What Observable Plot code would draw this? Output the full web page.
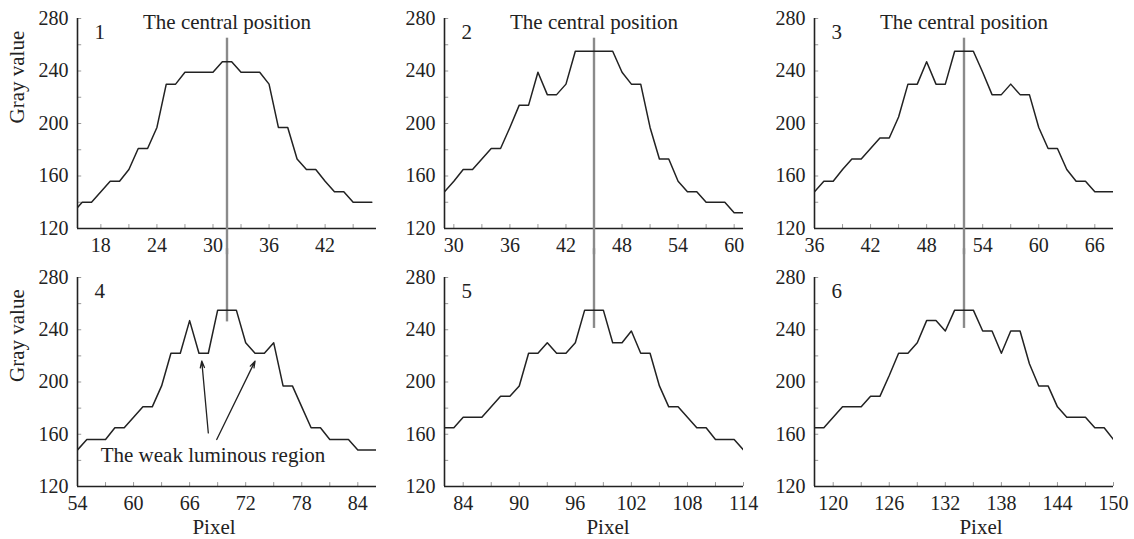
<!DOCTYPE html>
<html>
<head>
<meta charset="utf-8">
<script src="https://cdn.jsdelivr.net/npm/d3@7"></script>
<script src="https://cdn.jsdelivr.net/npm/@observablehq/plot@0.6"></script>
<style>
  body { margin: 0; background: #fff; }
  #chart { position: relative; width: 1134px; height: 539px; overflow: hidden; background: #fff; }
  #chart svg { position: absolute; }
  #chart svg, #chart svg text { font-family: "Liberation Serif", "Times New Roman", Times, serif !important; }
</style>
</head>
<body>
<div id="chart"></div>
<script>
// ---- data: pixel index and gray value for each of the six profiles ----
const pixels1 = [15,16,17,18,19,20,21,22,23,24,25,26,27,28,29,30,31,32,33,34,35,36,37,38,39,40,41,42,43,44,45,46,47];
const gray1   = [132,140,140,148,156,156,165,181,181,197,230,230,239,239,239,239,247,247,239,239,239,230,197,197,173,165,165,156,148,148,140,140,140];

const pixels2 = [29,30,31,32,33,34,35,36,37,38,39,40,41,42,43,44,45,46,47,48,49,50,51,52,53,54,55,56,57,58,59,60,61];
const gray2   = [148,156,165,165,173,181,181,197,214,214,239,222,222,230,255,255,255,255,255,239,230,230,197,173,173,156,148,148,140,140,140,132,132];

const pixels3 = [36,37,38,39,40,41,42,43,44,45,46,47,48,49,50,51,52,53,54,55,56,57,58,59,60,61,62,63,64,65,66,67,68];
const gray3   = [148,156,156,165,173,173,181,189,189,205,230,230,247,230,230,255,255,255,239,222,222,230,222,222,197,181,181,165,156,156,148,148,148];

const pixels4 = [54,55,56,57,58,59,60,61,62,63,64,65,66,67,68,69,70,71,72,73,74,75,76,77,78,79,80,81,82,83,84,85,86];
const gray4   = [148,156,156,156,165,165,173,181,181,197,222,222,247,222,222,255,255,255,230,222,222,230,197,197,181,165,165,156,156,156,148,148,148];

const pixels5 = [82,83,84,85,86,87,88,89,90,91,92,93,94,95,96,97,98,99,100,101,102,103,104,105,106,107,108,109,110,111,112,113,114];
const gray5   = [165,165,173,173,173,181,189,189,197,222,222,230,222,222,230,255,255,255,230,230,239,222,222,197,181,181,173,165,165,156,156,156,148];

const pixels6 = [118,119,120,121,122,123,124,125,126,127,128,129,130,131,132,133,134,135,136,137,138,139,140,141,142,143,144,145,146,147,148,149,150];
const gray6   = [165,165,173,181,181,181,189,189,205,222,222,230,247,247,239,255,255,255,239,239,222,239,239,214,197,197,181,173,173,173,165,165,156];

// central position of each profile (pixel)
const centers = [31.5, 45, 52, 70, 98, 134];
// x-axis range of each panel
const xDomains = [[15.5, 47.5], [29, 61], [36, 68], [54, 86], [82, 114], [118, 150]];
// tick labels
const xTicks1 = [18, 24, 30, 36, 42];
const xTicks2 = [30, 36, 42, 48, 54, 60];
const xTicks3 = [36, 42, 48, 54, 60, 66];
const xTicks4 = [54, 60, 66, 72, 78, 84];
const xTicks5 = [84, 90, 96, 102, 108, 114];
const xTicks6 = [120, 126, 132, 138, 144, 150];
const yTicks = [120, 160, 200, 240, 280];
const yMinorTicks = [120, 140, 160, 180, 200, 220, 240, 260, 280];
const panelLabels = ["1", "2", "3", "4", "5", "6"];

// annotation: the weak luminous region (panel 4)
const weakX1 = [68.0, 68.9];
const weakY1 = [161, 156];
const weakX2 = [67.3, 73.0];
const weakY2 = [216, 216];
const weakLabelX = 68.5;
const weakLabelY = 150;

const pixelsAll = [pixels1, pixels2, pixels3, pixels4, pixels5, pixels6];
const grayAll = [gray1, gray2, gray3, gray4, gray5, gray6];
const xTicksAll = [xTicks1, xTicks2, xTicks3, xTicks4, xTicks5, xTicks6];

const FONT = '"Liberation Serif", "Times New Roman", Times, serif';
const INK = "#222";
const RULE = "#8a8a8a";
const lefts = [0, 367, 737];
const pixelDx = [-13, 14, 17];

const chart = document.getElementById("chart");

for (let i = 0; i < 6; i++) {
  const row = i < 3 ? 0 : 1;
  const col = i % 3;
  const dom = xDomains[i];
  const data = pixelsAll[i].map((p, k) => ({pixel: p, gray: grayAll[i][k]}));
  const minor = d3.range(Math.ceil(dom[0] / 3) * 3, dom[1] + 0.01, 3);

  const marks = [
    Plot.ruleX(minor, {x: d => d, y1: 120, y2: 123, stroke: "#999", strokeWidth: 1}),
    Plot.ruleY(yMinorTicks, {y: d => d, x1: dom[0], x2: dom[0] + 0.45, stroke: "#999", strokeWidth: 1}),
    Plot.ruleX([dom[0]], {y1: 120, y2: 280, stroke: INK, strokeWidth: 1.6}),
    Plot.ruleY([120], {x1: dom[0], x2: dom[1], stroke: INK, strokeWidth: 1.6}),
    Plot.axisX({ticks: xTicksAll[i], tickSize: 0, tickPadding: 9, label: null, fill: INK, fontFamily: FONT}),
    Plot.axisY({ticks: yTicks, tickSize: 0, tickPadding: 9, label: null, fill: INK, fontFamily: FONT}),
    row === 0
      ? Plot.ruleX([centers[i]], {y1: 100, y2: 265, stroke: RULE, strokeWidth: 2.4})
      : Plot.ruleX([centers[i]], {y1: i === 3 ? 246 : 241, y2: 302, stroke: RULE, strokeWidth: 2.4}),
    Plot.line(data, {x: "pixel", y: "gray", stroke: INK, strokeWidth: 1.5, clip: true}),
    Plot.text([panelLabels[i]], {text: d => d, frameAnchor: "top-left", dx: 17, dy: 6, fill: INK, fontFamily: FONT, fontSize: 21})
  ];

  if (row === 0) {
    marks.push(Plot.text(["The central position"], {text: d => d, x: centers[i], y: 280, lineAnchor: "top", dy: -4, fill: INK, fontFamily: FONT, fontSize: 21}));
  } else {
    marks.push(Plot.text(["Pixel"], {text: d => d, frameAnchor: "bottom", lineAnchor: "middle", dy: 41, dx: pixelDx[col], fill: INK, fontFamily: FONT, fontSize: 21}));
  }
  if (col === 0) {
    marks.push(Plot.text(["Gray value"], {text: d => d, frameAnchor: "left", rotate: -90, dx: -60, fill: INK, fontFamily: FONT, fontSize: 21}));
  }
  if (i === 3) {
    marks.push(Plot.arrow(weakX1.map((x, k) => ({x1: x, y1: weakY1[k], x2: weakX2[k], y2: weakY2[k]})),
      {x1: "x1", y1: "y1", x2: "x2", y2: "y2", stroke: INK, strokeWidth: 1.3, headLength: 8, headAngle: 35}));
    marks.push(Plot.text(["The weak luminous region"], {text: d => d, x: weakLabelX, y: weakLabelY, lineAnchor: "top", fill: INK, fontFamily: FONT, fontSize: 21}));
  }

  const svg = Plot.plot({
    width: 384,
    height: row === 0 ? 260 : 289,
    marginLeft: 77,
    marginRight: 8,
    marginTop: row === 0 ? 18 : 27,
    marginBottom: row === 0 ? 32 : 53,
    x: {domain: dom},
    y: {domain: [120, 280]},
    style: {fontFamily: FONT, fontSize: "20px", color: INK, background: "transparent", overflow: "visible"},
    marks
  });
  svg.style.left = lefts[col] + "px";
  svg.style.top = (row === 0 ? 0 : 250) + "px";
  chart.appendChild(svg);
}
</script>
</body>
</html>
